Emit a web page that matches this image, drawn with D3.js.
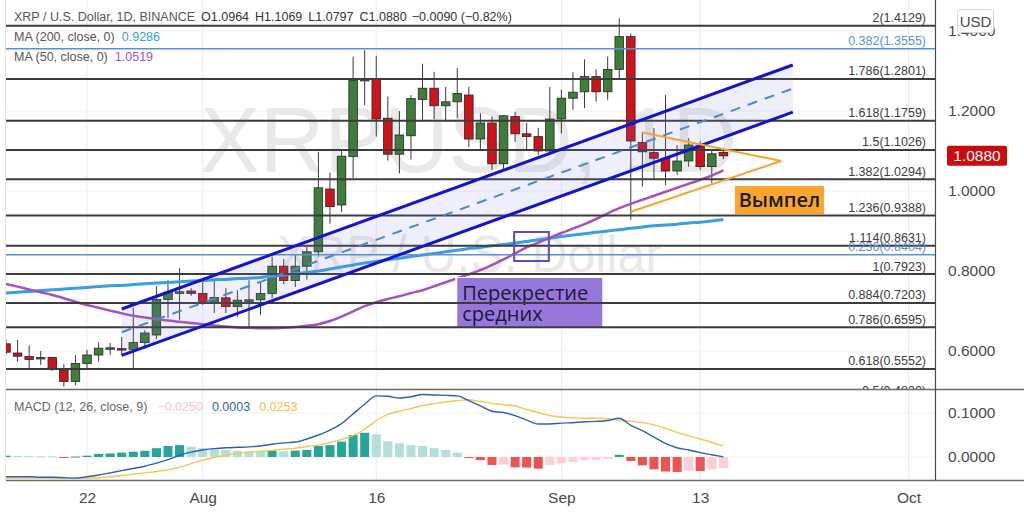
<!DOCTYPE html>
<html><head><meta charset="utf-8">
<script src="https://cdn.jsdelivr.net/npm/d3@7"></script>
<style>html,body{margin:0;padding:0;background:#fff;overflow:hidden}svg{display:block;font-family:"Liberation Sans",Arial,sans-serif}</style>
</head><body><svg id="c" width="1024" height="513"></svg>
<script>
// ---------- DATA ----------
const dates = ["2021-07-15","2021-07-16","2021-07-17","2021-07-18","2021-07-19","2021-07-20","2021-07-21","2021-07-22","2021-07-23","2021-07-24",
"2021-07-25","2021-07-26","2021-07-27","2021-07-28","2021-07-29","2021-07-30","2021-07-31","2021-08-01","2021-08-02","2021-08-03",
"2021-08-04","2021-08-05","2021-08-06","2021-08-07","2021-08-08","2021-08-09","2021-08-10","2021-08-11","2021-08-12","2021-08-13",
"2021-08-14","2021-08-15","2021-08-16","2021-08-17","2021-08-18","2021-08-19","2021-08-20","2021-08-21","2021-08-22","2021-08-23",
"2021-08-24","2021-08-25","2021-08-26","2021-08-27","2021-08-28","2021-08-29","2021-08-30","2021-08-31","2021-09-01","2021-09-02",
"2021-09-03","2021-09-04","2021-09-05","2021-09-06","2021-09-07","2021-09-08","2021-09-09","2021-09-10","2021-09-11","2021-09-12",
"2021-09-13","2021-09-14","2021-09-15"];
const open  = [0.618,0.595,0.586,0.580,0.584,0.552,0.524,0.569,0.590,0.607, 0.606,0.604,0.621,0.640,0.729,0.747,0.750,0.744,0.719,0.733,
0.711,0.727,0.728,0.744,0.812,0.776,0.812,0.848,1.005,0.965, 1.086,1.276,1.279,1.182,1.092,1.138,1.229,1.257,1.213,1.223,
1.240,1.130,1.170,1.068,1.186,1.143,1.136,1.100,1.180,1.232, 1.248,1.286,1.248,1.304,1.386,1.121,1.096,1.082,1.050,1.075,
1.113,1.061,1.0964];
const high  = [0.628,0.628,0.614,0.600,0.585,0.567,0.590,0.603,0.621,0.620, 0.635,0.708,0.652,0.762,0.777,0.807,0.757,0.773,0.777,0.757,
0.752,0.777,0.775,0.836,0.830,0.840,0.861,1.098,1.046,1.100, 1.336,1.352,1.338,1.236,1.200,1.240,1.318,1.298,1.260,1.307,
1.260,1.194,1.186,1.190,1.198,1.170,1.158,1.260,1.253,1.297, 1.329,1.304,1.336,1.432,1.394,1.148,1.157,1.240,1.115,1.132,
1.124,1.103,1.1069];
const low   = [0.592,0.573,0.557,0.565,0.550,0.511,0.515,0.557,0.574,0.590, 0.590,0.556,0.605,0.630,0.683,0.678,0.738,0.715,0.695,0.695,
0.686,0.657,0.690,0.732,0.767,0.760,0.778,0.836,0.918,0.948, 1.032,1.215,1.136,1.076,1.044,1.079,1.178,1.180,1.173,1.182,
1.110,1.103,1.053,1.055,1.123,1.103,1.090,1.090,1.144,1.203, 1.207,1.223,1.228,1.282,0.928,1.011,1.028,1.015,1.040,1.061,
1.053,1.019,1.0797];
const close = [0.597,0.587,0.579,0.584,0.554,0.524,0.569,0.590,0.607,0.608, 0.605,0.621,0.645,0.729,0.747,0.748,0.744,0.720,0.734,0.711,
0.727,0.728,0.744,0.812,0.776,0.812,0.848,1.008,0.961,1.087, 1.276,1.279,1.180,1.092,1.140,1.231,1.257,1.213,1.223,1.244,
1.130,1.170,1.068,1.188,1.143,1.136,1.100,1.180,1.232,1.247, 1.286,1.248,1.304,1.386,1.125,1.098,1.082,1.050,1.075,1.115,
1.061,1.093,1.0880];
const ma200 = [0.745,0.747,0.749,0.751,0.753,0.755,0.757,0.759,0.761,0.763, 0.764,0.766,0.768,0.770,0.771,0.773,0.775,0.776,0.778,0.779,
0.781,0.782,0.784,0.787,0.790,0.793,0.796,0.800,0.805,0.810, 0.815,0.820,0.824,0.828,0.832,0.836,0.840,0.844,0.848,0.852,
0.856,0.859,0.863,0.866,0.870,0.874,0.878,0.882,0.886,0.890, 0.893,0.897,0.900,0.903,0.907,0.910,0.913,0.915,0.917,0.920,
0.922,0.925,0.9286];
const ma50 = [0.7675,0.761,0.754,0.747,0.740,0.732,0.723,0.715,0.708,0.701, 0.694,0.688,0.684,0.680,0.676,0.673,0.670,0.667,0.664,0.661,
0.659,0.658,0.657,0.657,0.658,0.660,0.663,0.667,0.675,0.686, 0.699,0.712,0.722,0.730,0.737,0.745,0.752,0.762,0.772,0.782,
0.792,0.802,0.815,0.829,0.844,0.859,0.871,0.883,0.895,0.906, 0.917,0.930,0.944,0.957,0.968,0.978,0.988,0.998,1.008,1.018,
1.028,1.039,1.0519];
const macdLine = [-0.045,-0.045,-0.045,-0.046,-0.046,-0.047,-0.048,-0.045,-0.041,-0.036, -0.031,-0.026,-0.021,-0.014,-0.006,0.004,0.011,0.016,0.019,0.021,
0.022,0.023,0.025,0.029,0.032,0.034,0.041,0.050,0.061,0.076, 0.098,0.120,0.139,0.138,0.134,0.137,0.142,0.141,0.140,0.139,
0.128,0.116,0.104,0.101,0.094,0.084,0.075,0.075,0.077,0.078, 0.080,0.081,0.083,0.088,0.072,0.060,0.045,0.031,0.021,0.016,
0.010,0.005,0.0003];
const signalLine = [-0.048,-0.048,-0.048,-0.048,-0.048,-0.048,-0.048,-0.048,-0.047,-0.045, -0.042,-0.039,-0.036,-0.033,-0.029,-0.023,-0.015,-0.007,-0.001,0.004,
0.008,0.011,0.013,0.015,0.018,0.020,0.024,0.027,0.033,0.040, 0.049,0.063,0.083,0.097,0.104,0.110,0.117,0.121,0.125,0.128,
0.130,0.126,0.122,0.119,0.116,0.108,0.101,0.094,0.091,0.089, 0.088,0.088,0.087,0.083,0.081,0.078,0.073,0.065,0.056,0.048,
0.041,0.033,0.0253];
const macdHist = [0.003,0.0025,0.002,0.0018,0.0015,-0.001,0.001,0.003,0.007,0.008, 0.010,0.012,0.014,0.020,0.025,0.027,0.0235,0.020,0.0175,0.016,
0.014,0.013,0.012,0.014,0.013,0.0145,0.016,0.025,0.027,0.035, 0.050,0.055,0.0515,0.036,0.031,0.027,0.025,0.020,0.016,0.010,
-0.002,-0.007,-0.018,-0.017,-0.0235,-0.024,-0.0265,-0.018,-0.0145,-0.011, -0.0075,-0.007,-0.004,0.005,-0.009,-0.019,-0.028,-0.033,-0.034,-0.031,
-0.032,-0.028,-0.025];
const priceTicks = [0.6,0.8,1.0,1.2,1.4];
const macdTicks = [0,0.1];
const timeTickDates = ["2021-07-22","2021-08-01","2021-08-16","2021-09-01","2021-09-13","2021-10-01"];
const timeTickLabels = ["22","Aug","16","Sep","13","Oct"];
const fibRatios = ["2","1.786","1.618","1.5","1.382","1.236","1.114","1","0.884","0.786","0.618","0.5"];
const fibPrices = [1.4129,1.2801,1.1759,1.1026,1.0294,0.9388,0.8631,0.7923,0.7203,0.6595,0.5552,0.4820];
const retrRatios = ["0.382","0.236"];
const retrPrices = [1.3555,0.8404];
const channelDates = ["2021-07-25","2021-09-21"];
const channelUpper = [0.705,1.315];
const channelLower = [0.589,1.197];
const channelMid = [0.647,1.256];
const pennantUpperDates = ["2021-09-08","2021-09-20"], pennantUpper = [1.146,1.075];
const pennantLowerDates = ["2021-09-07","2021-09-20"], pennantLower = [0.948,1.075];
const crossBoxDates = ["2021-08-27T22:00","2021-08-30T22:00"], crossBoxPrices = [0.8975,0.825];
const pennantLabel = {text:"Вымпел", date:"2021-09-16", price:1.0125};
const crossLabel = {lines:["Перекрестие","средних"], date:"2021-08-23", price:0.7825};
const lastPrice = 1.0880;
const changeText = "−0.0090 (−0.82%)";

// ---------- SETUP ----------
const P = s => new Date(s.length>10 ? s+":00Z" : s+"T00:00:00Z");
const svg = d3.select("#c");
const L=6, R=935, PT=0, PB=389, MT=390, MB=480.5;
const x = d3.scaleUtc().domain([P("2021-07-22"),P("2021-10-01")]).range([87,908.5]);
const y = d3.scaleLinear().domain([0.6,1.2]).range([351,111]);
const ym = d3.scaleLinear().domain([0,0.1]).range([457,413]);
const step = x(P("2021-07-23"))-x(P("2021-07-22"));
const data = dates.map((d,i)=>({d:P(d),o:open[i],h:high[i],l:low[i],c:close[i],m200:ma200[i],m50:ma50[i],mc:macdLine[i],sg:signalLine[i],hs:macdHist[i]}));

const defs = svg.append("defs");
defs.append("clipPath").attr("id","cp").append("rect").attr("x",L).attr("y",PT).attr("width",R-L).attr("height",PB-PT);
defs.append("clipPath").attr("id","cm").append("rect").attr("x",L).attr("y",MT).attr("width",R-L).attr("height",MB-MT);

svg.append("rect").attr("width",1024).attr("height",513).attr("fill","#fff");

// grid
const grid = svg.append("g");
grid.selectAll("line.v").data(timeTickDates).join("line").attr("x1",d=>x(P(d))).attr("x2",d=>x(P(d))).attr("y1",0).attr("y2",MB).attr("stroke","#ebebeb");
grid.selectAll("line.h").data(priceTicks).join("line").attr("x1",L).attr("x2",R).attr("y1",d=>y(d)).attr("y2",d=>y(d)).attr("stroke","#f0f0f0");
grid.selectAll("line.m").data(macdTicks).join("line").attr("x1",L).attr("x2",R).attr("y1",d=>ym(d)).attr("y2",d=>ym(d)).attr("stroke","#f0f0f0");

// price pane
const pp = svg.append("g").attr("clip-path","url(#cp)");
pp.append("text").attr("x",200).attr("y",172).attr("font-size",93).attr("textLength",537).attr("lengthAdjust","spacingAndGlyphs").attr("fill","#e8e8e8").text("XRPUSD, 1D");
pp.append("text").attr("x",277).attr("y",272).attr("font-size",52).attr("textLength",385).attr("lengthAdjust","spacingAndGlyphs").attr("fill","#e8e8e8").text("XRP / U.S. Dollar");

// candles
const bw = step*0.74;
const cg = pp.append("g");
cg.selectAll("line").data(data).join("line").attr("x1",d=>x(d.d)).attr("x2",d=>x(d.d)).attr("y1",d=>y(d.h)).attr("y2",d=>y(d.l)).attr("stroke","#3a3a3a").attr("stroke-width",1);
cg.selectAll("rect").data(data).join("rect")
  .attr("x",d=>x(d.d)-bw/2).attr("width",bw)
  .attr("y",d=>y(Math.max(d.o,d.c))).attr("height",d=>Math.max(1.5,Math.abs(y(d.o)-y(d.c))))
  .attr("fill",d=>d.c>=d.o?"#3f7d3a":"#d0121b").attr("stroke","#262626").attr("stroke-width",0.8);

// MAs
const lineP = k => d3.line().x(d=>x(d.d)).y(d=>y(d[k])).curve(d3.curveMonotoneX);
pp.append("path").datum(data).attr("d",lineP("m200")).attr("fill","none").attr("stroke","#3a9ee0").attr("stroke-width",3);
pp.append("path").datum(data).attr("d",lineP("m50")).attr("fill","none").attr("stroke","#a452bd").attr("stroke-width",2.5);

// label box: crossover
const cx0 = x(P(crossLabel.date)), cy0 = y(crossLabel.price);
pp.append("rect").attr("x",cx0-2).attr("y",cy0-1).attr("width",149).attr("height",52).attr("fill","#fff");
pp.append("rect").attr("x",cx0).attr("y",cy0).attr("width",145).attr("height",50).attr("fill","#9877dc");
crossLabel.lines.forEach((t,i)=>pp.append("text").attr("x",cx0+5).attr("y",cy0+22+i*21).attr("font-family","'Open Sans',sans-serif").attr("font-size",20).attr("fill","#1a1838").text(t));

// fib lines
fibPrices.forEach((p,i)=>{
  pp.append("line").attr("x1",L).attr("x2",R).attr("y1",y(p)).attr("y2",y(p)).attr("stroke","#3c3c3c").attr("stroke-width",2);
  pp.append("text").attr("x",926).attr("y",y(p)-3.5).attr("text-anchor","end").attr("font-size",12.5).attr("fill","#3c3c3c").text(`${fibRatios[i]}(${p.toFixed(4)})`);
});
retrPrices.forEach((p,i)=>{
  pp.append("line").attr("x1",L).attr("x2",R).attr("y1",y(p)).attr("y2",y(p)).attr("stroke","#5b8fd6").attr("stroke-width",1.5);
  pp.append("text").attr("x",926).attr("y",y(p)-3.5).attr("text-anchor","end").attr("font-size",12.5).attr("fill","#5b8fd6").text(`${retrRatios[i]}(${p.toFixed(4)})`);
});
// channel
const cx1 = x(P(channelDates[0])), cx2 = x(P(channelDates[1]));
pp.append("path").attr("d",`M${cx1},${y(channelUpper[0])}L${cx2},${y(channelUpper[1])}L${cx2},${y(channelLower[1])}L${cx1},${y(channelLower[0])}Z`).attr("fill","rgba(120,130,215,0.13)");
pp.append("line").attr("x1",cx1).attr("x2",cx2).attr("y1",y(channelMid[0])).attr("y2",y(channelMid[1])).attr("stroke","#4f86c8").attr("stroke-width",2).attr("stroke-dasharray","10,8");
[channelUpper,channelLower].forEach(c=>pp.append("line").attr("x1",cx1).attr("x2",cx2).attr("y1",y(c[0])).attr("y2",y(c[1])).attr("stroke","#1414c8").attr("stroke-width",3));
// pennant
pp.append("line").attr("x1",x(P(pennantUpperDates[0]))).attr("x2",x(P(pennantUpperDates[1]))).attr("y1",y(pennantUpper[0])).attr("y2",y(pennantUpper[1])).attr("stroke","#f5a52a").attr("stroke-width",2);
pp.append("line").attr("x1",x(P(pennantLowerDates[0]))).attr("x2",x(P(pennantLowerDates[1]))).attr("y1",y(pennantLower[0])).attr("y2",y(pennantLower[1])).attr("stroke","#f5a52a").attr("stroke-width",2);
const px0 = x(P(pennantLabel.date)), py0 = y(pennantLabel.price);
pp.append("rect").attr("x",px0).attr("y",py0).attr("width",89).attr("height",28).attr("fill","#f9a530");
pp.append("text").attr("x",px0+44.5).attr("y",py0+21).attr("text-anchor","middle").attr("font-family","'Open Sans',sans-serif").attr("font-size",20).attr("font-weight",600).attr("fill","#1a1a1a").text(pennantLabel.text);
// crossover box
pp.append("rect").attr("x",x(P(crossBoxDates[0]))).attr("y",y(crossBoxPrices[0])).attr("width",x(P(crossBoxDates[1]))-x(P(crossBoxDates[0]))).attr("height",y(crossBoxPrices[1])-y(crossBoxPrices[0])).attr("fill","none").attr("stroke","#6848b4").attr("stroke-width",2);

// MACD pane
const mp = svg.append("g").attr("clip-path","url(#cm)");
const hw = step*0.78;
mp.selectAll("rect").data(data).join("rect")
  .attr("x",d=>x(d.d)-hw/2).attr("width",hw)
  .attr("y",d=>Math.min(ym(0),ym(d.hs))).attr("height",d=>Math.max(1,Math.abs(ym(d.hs)-ym(0))))
  .attr("fill",(d,i)=>{const prev=i>0?data[i-1].hs:d.hs; if(d.hs>=0) return d.hs>=prev?"#26a69a":"#b2dfdb"; return d.hs<prev?"#ef5350":"#ffcdd2";});
const lineM = k => d3.line().x(d=>x(d.d)).y(d=>ym(d[k])).curve(d3.curveMonotoneX);
mp.append("path").datum(data).attr("d",lineM("sg")).attr("fill","none").attr("stroke","#f0c84a").attr("stroke-width",1.4);
mp.append("path").datum(data).attr("d",lineM("mc")).attr("fill","none").attr("stroke","#2f5fb5").attr("stroke-width",1.4);

// frames
svg.append("line").attr("x1",L).attr("x2",1024).attr("y1",389.5).attr("y2",389.5).attr("stroke","#6a6a6a").attr("stroke-width",1.5);
svg.append("line").attr("x1",L).attr("x2",1024).attr("y1",MB).attr("y2",MB).attr("stroke","#6a6a6a").attr("stroke-width",1.5);
svg.append("line").attr("x1",R+0.5).attr("x2",R+0.5).attr("y1",0).attr("y2",MB).attr("stroke","#4a4a4a").attr("stroke-width",1.2);
svg.append("line").attr("x1",L-0.5).attr("x2",L-0.5).attr("y1",0).attr("y2",MB).attr("stroke","#e2e2e2");

// axes
const axStyle = g=>{g.select(".domain").remove(); g.selectAll("text").attr("font-size",15.5).attr("fill","#4a4a4a").attr("font-family","'Liberation Sans',Arial,sans-serif");};
svg.append("g").attr("transform",`translate(${R},0)`).call(d3.axisRight(y).tickValues(priceTicks).tickFormat(d3.format(".4f")).tickSize(0).tickPadding(13)).call(axStyle);
svg.append("g").attr("transform",`translate(${R},0)`).call(d3.axisRight(ym).tickValues(macdTicks).tickFormat(d3.format(".4f")).tickSize(0).tickPadding(13)).call(axStyle);
svg.append("g").attr("transform",`translate(0,${MB})`).call(d3.axisBottom(x).tickValues(timeTickDates.map(P)).tickFormat((d,i)=>timeTickLabels[i]).tickSize(0).tickPadding(11)).call(axStyle);

// USD box & price badge
svg.append("rect").attr("x",957.5).attr("y",9.5).attr("width",36).attr("height",23).attr("rx",3).attr("fill","#fff").attr("stroke","#d4d4d4");
svg.append("text").attr("x",975.5).attr("y",27).attr("text-anchor","middle").attr("font-size",15).attr("fill","#4a4a4a").text("USD");
svg.append("rect").attr("x",947).attr("y",y(lastPrice)-10).attr("width",60).attr("height",20).attr("rx",2).attr("fill","#cc0a0a");
svg.append("text").attr("x",977).attr("y",y(lastPrice)+5.5).attr("text-anchor","middle").attr("font-size",15.5).attr("fill","#fff").text(lastPrice.toFixed(4));

// legends
const lg = svg.append("g").attr("font-size",12.5);
const t1 = lg.append("text").attr("x",14).attr("y",21).attr("fill","#555");
t1.append("tspan").text("XRP / U.S. Dollar, 1D, BINANCE");
[["O",open[62]],["H",high[62]],["L",low[62]],["C",close[62]]].forEach(([k,v])=>{t1.append("tspan").attr("dx",6).attr("fill","#333").text(k+v.toFixed(4));});
t1.append("tspan").attr("dx",5).attr("fill","#333").text(changeText);
const t2 = lg.append("text").attr("x",14).attr("y",41).attr("fill","#555");
t2.append("tspan").text("MA (200, close, 0)"); t2.append("tspan").attr("dx",7).attr("fill","#3a9ee0").text(ma200[62].toFixed(4));
const t3 = lg.append("text").attr("x",14).attr("y",61).attr("fill","#555");
t3.append("tspan").text("MA (50, close, 0)"); t3.append("tspan").attr("dx",7).attr("fill","#a452bd").text(ma50[62].toFixed(4));
const t4 = lg.append("text").attr("x",14).attr("y",411).attr("fill","#666");
t4.append("tspan").text("MACD (12, 26, close, 9)");
t4.append("tspan").attr("dx",10).attr("fill","#f6c6cc").text(macdHist[62].toFixed(4).replace("-","−"));
t4.append("tspan").attr("dx",9).attr("fill","#2f5fb5").text(macdLine[62].toFixed(4));
t4.append("tspan").attr("dx",9).attr("fill","#e9c040").text(signalLine[62].toFixed(4));
</script></body></html>
